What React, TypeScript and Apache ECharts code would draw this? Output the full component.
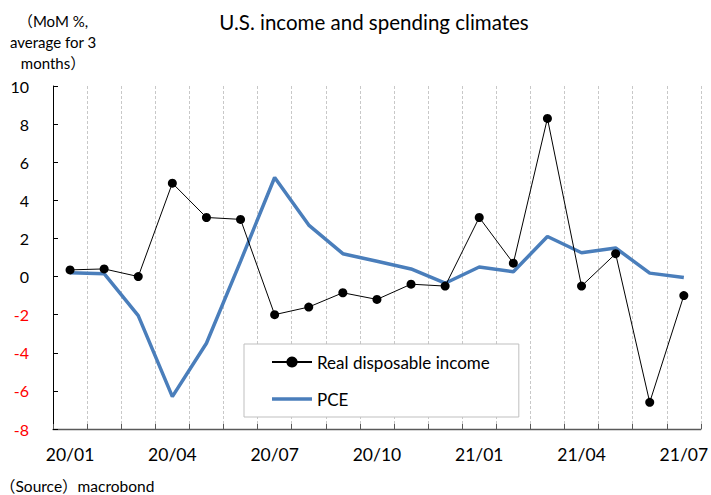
import React, { useEffect, useRef } from "react";
import * as echarts from "echarts";

// Monthly categories, 2020/01 – 2021/07
const months = [
  "20/01", "20/02", "20/03", "20/04", "20/05", "20/06", "20/07", "20/08", "20/09", "20/10",
  "20/11", "20/12", "21/01", "21/02", "21/03", "21/04", "21/05", "21/06", "21/07",
];

// MoM %, 3-month average
const realDisposableIncome = [
  0.35, 0.4, 0.0, 4.9, 3.1, 3.0, -2.0, -1.6, -0.85, -1.2,
  -0.4, -0.5, 3.1, 0.7, 8.3, -0.5, 1.2, -6.6, -1.0,
];
const pce = [
  0.2, 0.15, -2.05, -6.3, -3.5, 0.8, 5.2, 2.7, 1.2, 0.8,
  0.4, -0.35, 0.5, 0.25, 2.1, 1.25, 1.5, 0.18, -0.05,
];

const titleText = "U.S. income and spending climates";
const unitText = "（MoM %,\naverage for 3\nmonths）";
const sourceText = "（Source）macrobond";

const FONT = "Lato, 'Noto Sans', 'Noto Sans CJK JP', sans-serif";
const PCE_COLOR = "#4a7ebb";

export default function App() {
  const ref = useRef<HTMLDivElement>(null);

  useEffect(() => {
    if (!ref.current) return;
    const chart = echarts.init(ref.current, null, { renderer: "svg" });
    chart.setOption({
      animation: false,
      backgroundColor: "#ffffff",
      textStyle: { fontFamily: FONT },
      title: {
        text: titleText,
        left: 369,
        textAlign: "center",
        top: 7,
        textStyle: { fontFamily: FONT, fontSize: 20.5, fontWeight: "normal", color: "#000" },
      },
      legend: {
        left: 244,
        top: 344,
        orient: "vertical",
        data: [
          { name: "Real disposable income" },
          { name: "PCE", icon: "path://M0,0 L40,0 L40,3.5 L0,3.5 Z" },
        ],
        backgroundColor: "#ffffff",
        borderColor: "#bfbfbf",
        borderWidth: 1,
        padding: [9, 29, 9, 27],
        itemWidth: 40,
        itemHeight: 14,
        itemGap: 19,
        textStyle: { fontFamily: FONT, fontSize: 17, color: "#000", lineHeight: 18 },
      },
      grid: { left: 53, right: 7, top: 86, bottom: 66 },
      xAxis: [
        {
          type: "category",
          data: months,
          boundaryGap: true,
          position: "bottom",
          axisLine: { show: false },
          axisTick: { show: false, interval: 0 },
          axisLabel: {
            interval: 2,
            margin: 17,
            fontSize: 17.5,
            color: "#000",
            fontFamily: FONT,
          },
          splitLine: {
            show: true,
            interval: 0,
            lineStyle: { color: "#c8c8c8", type: [3, 2], width: 1 },
          },
        },
        {
          // zero line with its category ticks
          type: "category",
          data: months,
          boundaryGap: true,
          position: "bottom",
          axisLine: { show: true, onZero: true, lineStyle: { color: "#595959", width: 1.3 } },
          axisTick: { show: true, inside: true, length: 5, interval: 0, lineStyle: { color: "#595959" } },
          axisLabel: { show: false },
          splitLine: { show: false },
        },
      ],
      yAxis: {
        type: "value",
        min: -8,
        max: 10,
        interval: 2,
        name: unitText,
        nameLocation: "end",
        nameGap: 13,
        nameTextStyle: {
          fontFamily: FONT,
          fontSize: 15,
          lineHeight: 21,
          color: "#000",
          align: "center",
          verticalAlign: "bottom",
        },
        axisLine: { show: true, lineStyle: { color: "#000", width: 1 } },
        axisTick: { show: true, inside: true, length: 5, lineStyle: { color: "#000" } },
        axisLabel: {
          margin: 24,
          fontSize: 16,
          fontFamily: FONT,
          color: (v: any) => (Number(v) < 0 ? "#ff0000" : "#000000"),
        },
        splitLine: { show: false },
      },
      series: [
        {
          name: "PCE",
          type: "line",
          xAxisIndex: 0,
          data: pce,
          symbol: "none",
          lineStyle: { color: PCE_COLOR, width: 3.5 },
          itemStyle: { color: PCE_COLOR },
          z: 2,
        },
        {
          name: "Real disposable income",
          type: "line",
          xAxisIndex: 0,
          data: realDisposableIncome,
          symbol: "circle",
          symbolSize: 9,
          lineStyle: { color: "#000", width: 1 },
          itemStyle: { color: "#000" },
          z: 3,
        },
      ],
      graphic: [
        {
          type: "text",
          left: 0,
          top: 478,
          style: { text: sourceText, fontFamily: FONT, fontSize: 15.5, fill: "#000" },
        },
      ],
    });
    return () => chart.dispose();
  }, []);

  return (
    <div
      ref={ref}
      style={{ position: "fixed", left: 0, top: 0, width: 711, height: 495, background: "#fff" }}
    />
  );
}
